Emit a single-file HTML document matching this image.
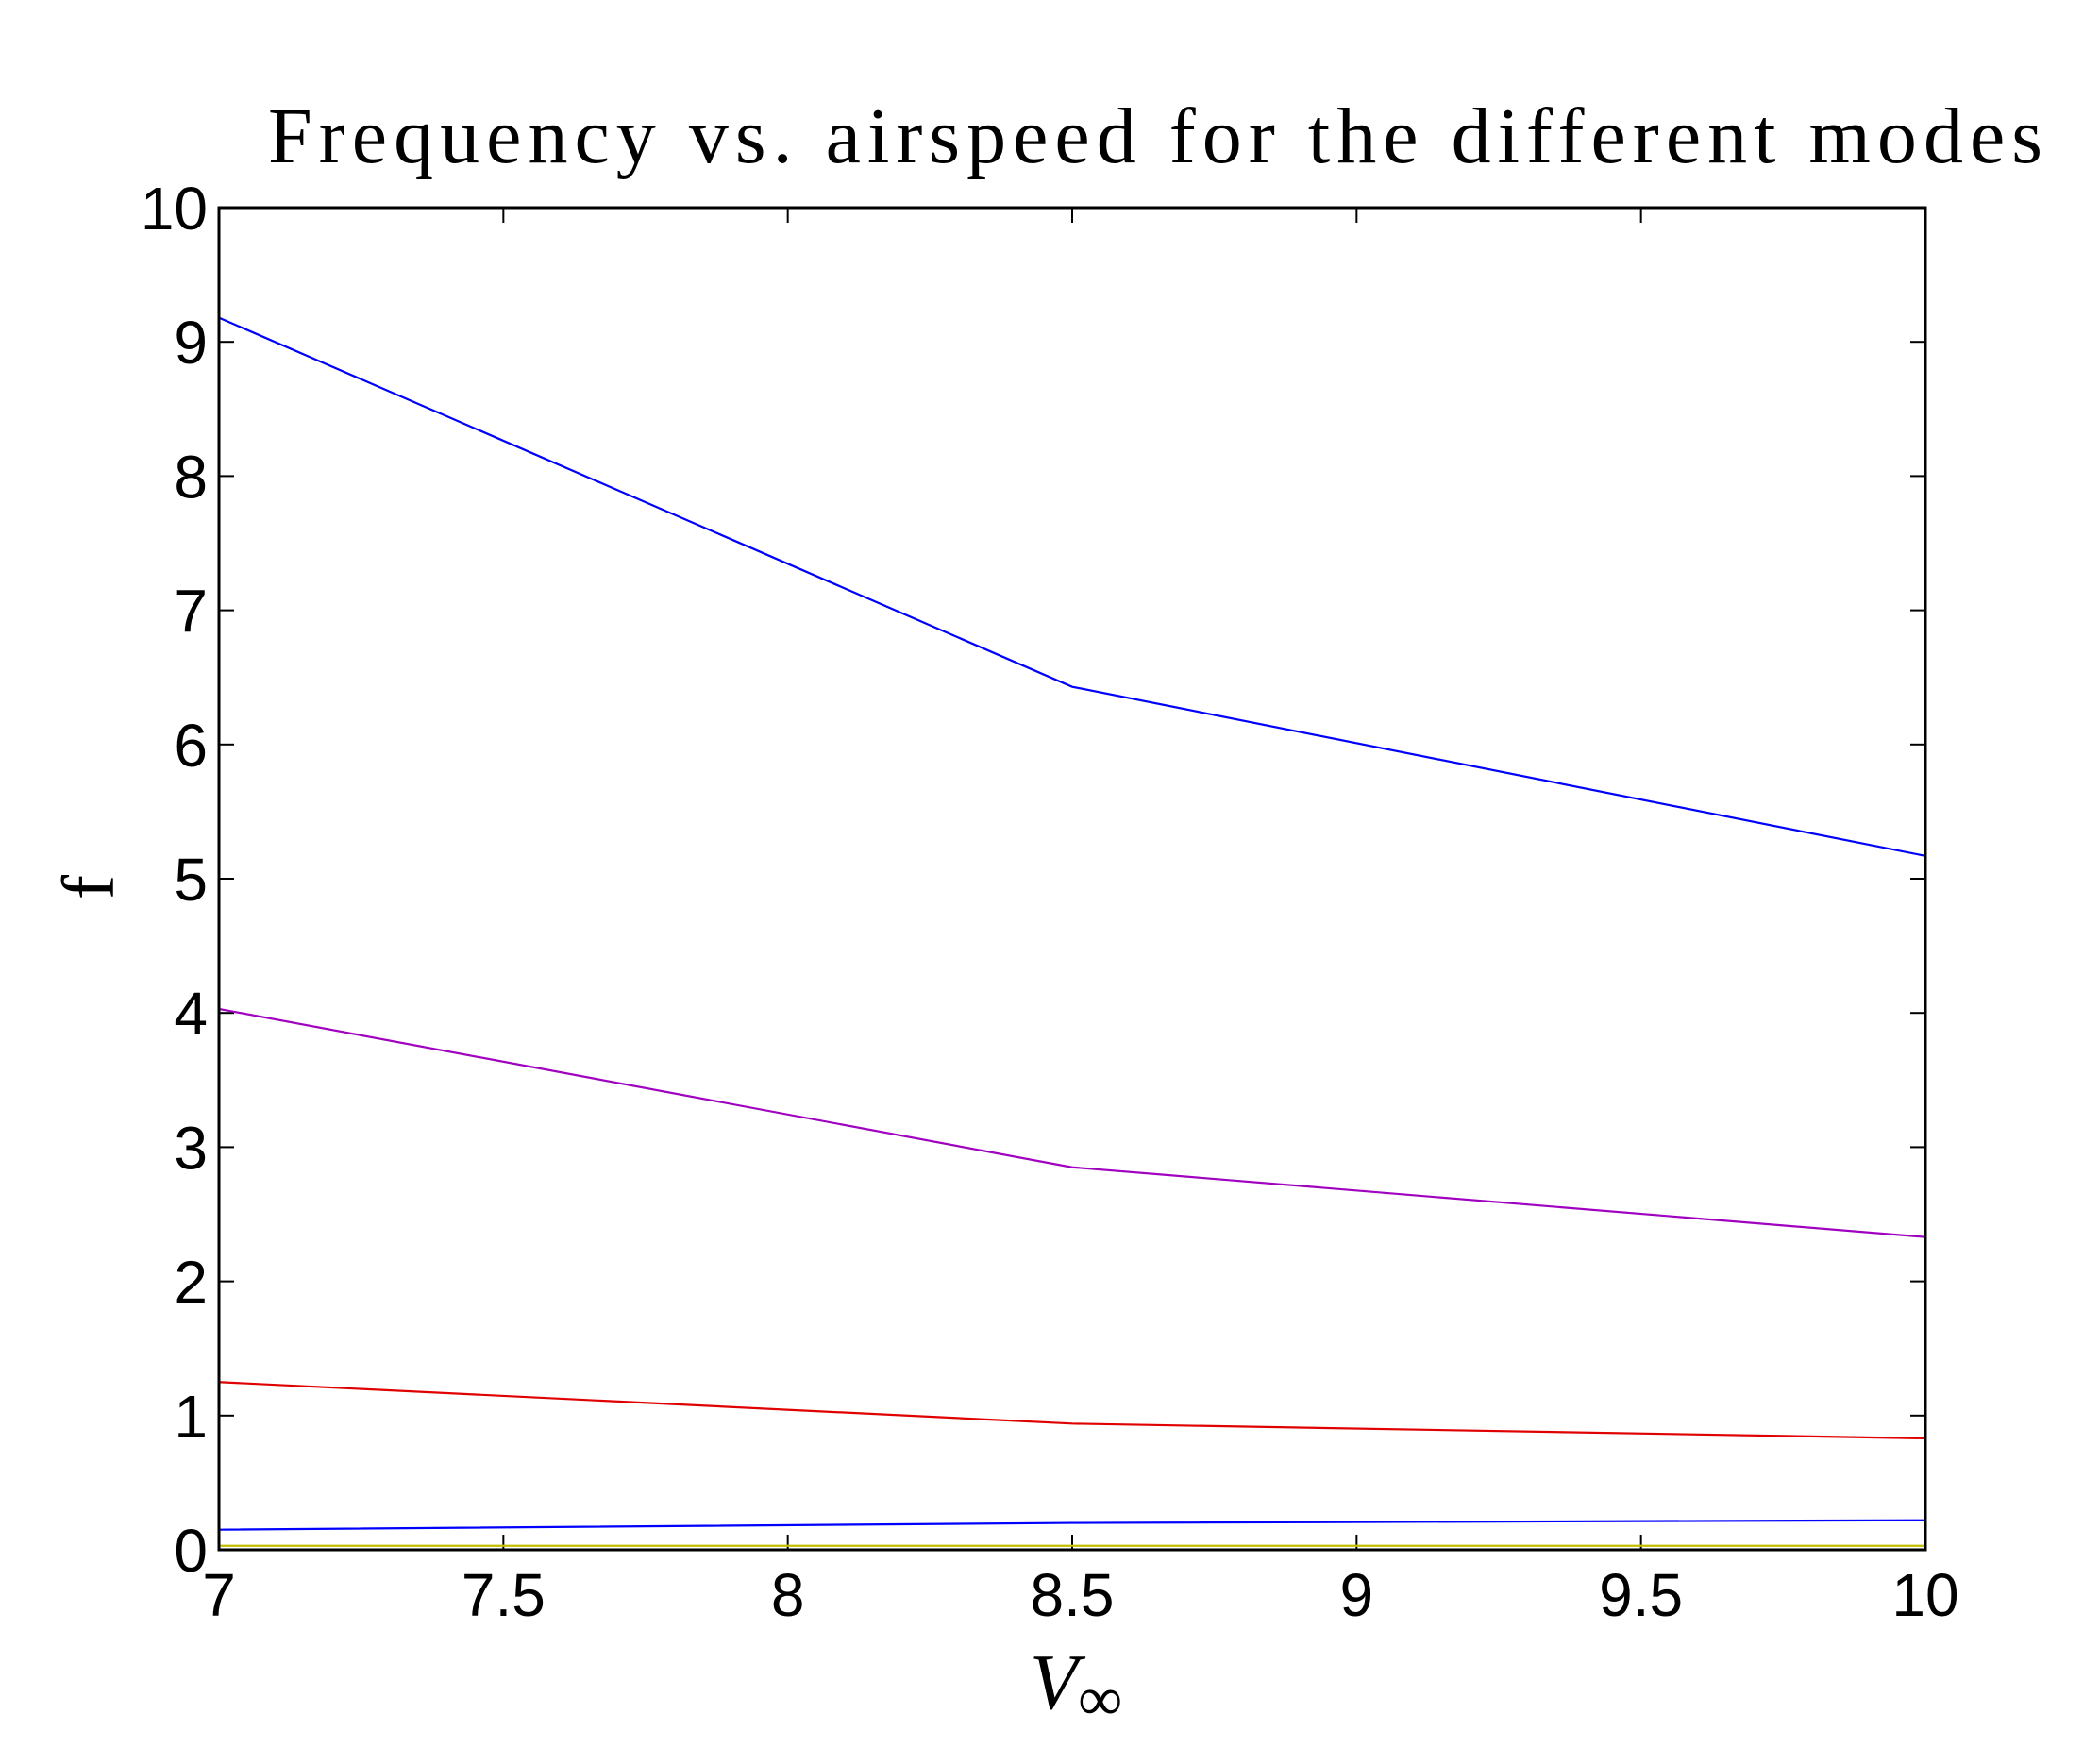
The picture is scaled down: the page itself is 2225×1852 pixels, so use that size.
<!DOCTYPE html>
<html><head><meta charset="utf-8"><style>
body{margin:0;background:#fff}
svg{display:block}
</style></head><body>
<svg id="chart" width="2225" height="1852" xmlns="http://www.w3.org/2000/svg">
<rect width="2225" height="1852" fill="#fff"/>
<text x="284" y="172" font-family="Liberation Serif, serif" font-size="84" textLength="1880" lengthAdjust="spacing">Frequency vs. airspeed for the different modes</text>
<text x="100" y="960" font-family="Liberation Serif, serif" font-size="78" text-anchor="middle" transform="rotate(-90 100 940)">f</text>
<text x="1140" y="1810" font-family="Liberation Serif, serif" font-style="italic" font-size="84" text-anchor="middle">V<tspan font-style="normal" font-size="66" dy="12">∞</tspan></text>
<g id="ticks"></g>
<g id="series"></g>
<rect x="232" y="220" width="1808" height="1422" fill="none" stroke="#000" stroke-width="3"/>
</svg>
<script>
const xTicks=[7,7.5,8,8.5,9,9.5,10];
const xTickLabels=["7","7.5","8","8.5","9","9.5","10"];
const yTicks=[0,1,2,3,4,5,6,7,8,9,10];
const yTickLabels=["0","1","2","3","4","5","6","7","8","9","10"];
const airspeeds=[7,8.5,10];
const mode1=[9.18,6.43,5.17];
const mode2=[4.03,2.85,2.33];
const mode3=[1.25,0.94,0.83];
const mode4=[0.15,0.2,0.22];
const mode5=[0.03,0.03,0.03];
const L=232,R=2040,T=220,B=1642;
const xs=v=>L+(v-7)/3*(R-L);
const ys=v=>B-v/10*(B-T);
const NS="http://www.w3.org/2000/svg";
const tg=document.getElementById('ticks');
function mk(t,a){const e=document.createElementNS(NS,t);for(const k in a)e.setAttribute(k,a[k]);return e;}
xTicks.forEach((v,i)=>{
  const x=xs(v);
  const t1=mk('line',{x1:x,y1:B,x2:x,y2:B-16,stroke:'#000','stroke-width':2});
  
  
  tg.appendChild(t1);
  const t2=mk('line',{x1:x,y1:T,x2:x,y2:T+16,stroke:'#000','stroke-width':2});
  
  
  tg.appendChild(t2);
  const lb=mk('text',{x:x,y:B+70,'font-family':'Liberation Sans, sans-serif','font-size':64,'text-anchor':'middle'});
  lb.textContent=xTickLabels[i];
  
  
  tg.appendChild(lb);
});
yTicks.forEach((v,i)=>{
  const y=ys(v);
  const t1=mk('line',{x1:L,y1:y,x2:L+16,y2:y,stroke:'#000','stroke-width':2});
  
  
  tg.appendChild(t1);
  const t2=mk('line',{x1:R,y1:y,x2:R-16,y2:y,stroke:'#000','stroke-width':2});
  
  
  tg.appendChild(t2);
  const lb=mk('text',{x:L-12,y:y+23,'font-family':'Liberation Sans, sans-serif','font-size':64,'text-anchor':'end'});
  lb.textContent=yTickLabels[i];
  
  
  tg.appendChild(lb);
});
const sg=document.getElementById('series');
[[mode5,'#bfbf00','mode-5-line'],[mode4,'#0000ff','mode-4-line'],[mode3,'#e00000','mode-3-line'],[mode2,'#a000c0','mode-2-line'],[mode1,'#0000ff','mode-1-line']].forEach(([d,c,n])=>{
  const p=mk('polyline',{points:d.map((v,i)=>xs(airspeeds[i])+','+ys(v)).join(' '),fill:'none',stroke:c,'stroke-width':2.2});
  
  
  sg.appendChild(p);
});
</script>
</body></html>
